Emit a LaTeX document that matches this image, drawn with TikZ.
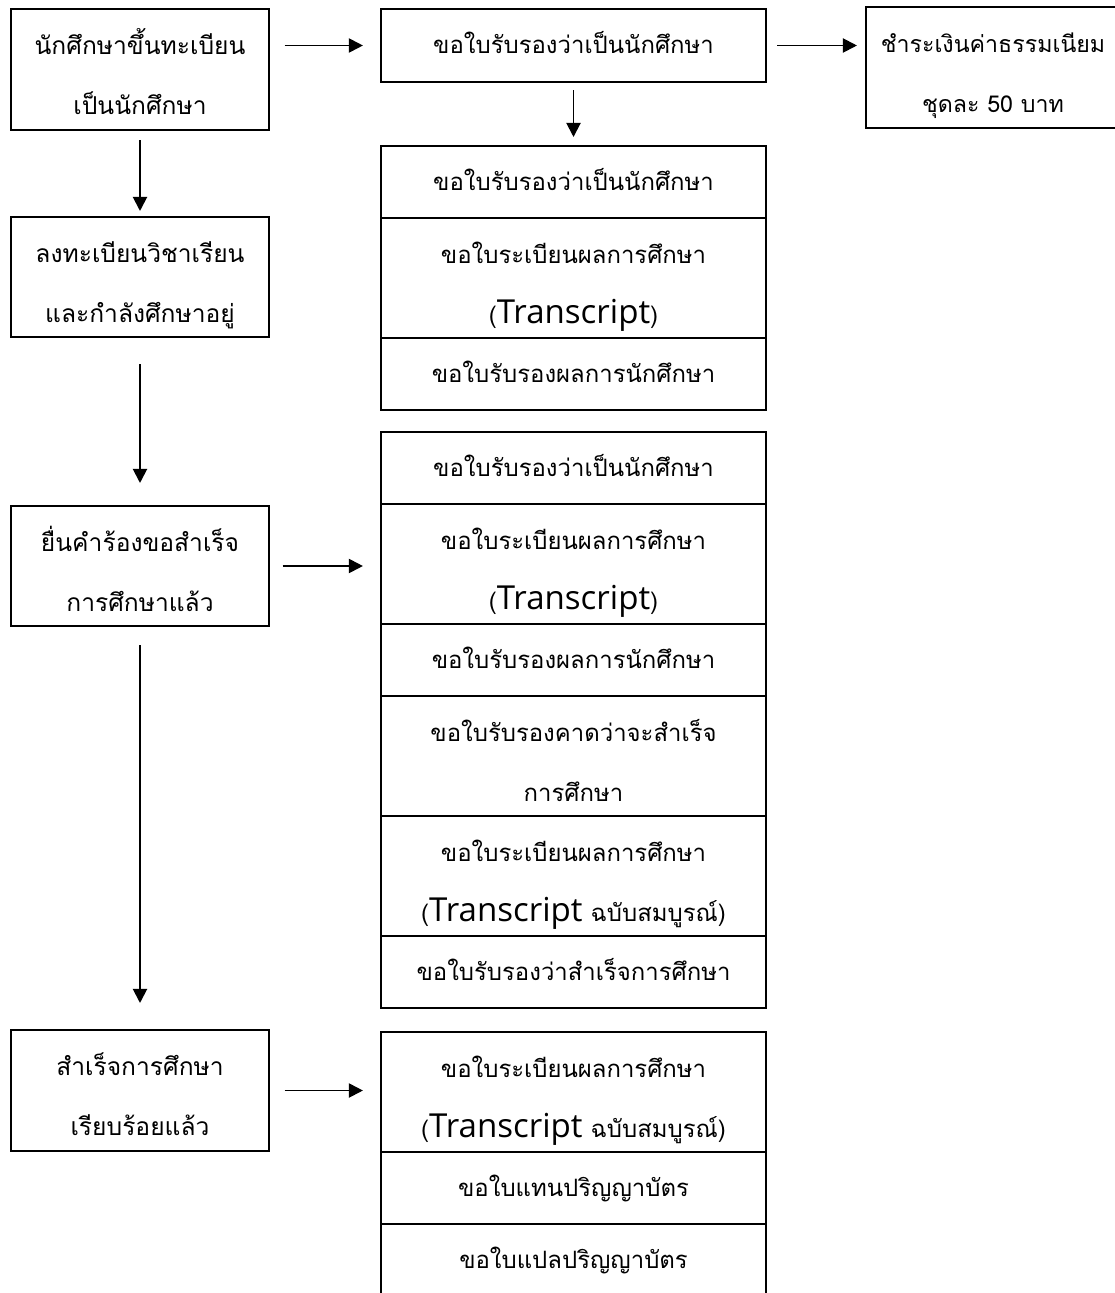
\documentclass[tikz,border=0pt]{standalone}
\usepackage{fontspec}
\setmainfont[Script=Thai]{Loma}
\newfontfamily\latfont{Open Sans}
\usetikzlibrary{arrows.meta, positioning}

\newcommand{\trn}{{\latfont\fontsize{23.5}{42}\selectfont Transcript}}
% lines of fixed height, so that every box sets its text alike
\newcommand{\one}[1]{\rule[-4pt]{0pt}{19.5pt}\smash{#1}}
\newcommand{\two}[2]{\rule[-4pt]{0pt}{29.5pt}\smash{#1}\\\one{#2}}

\begin{document}
\begin{tikzpicture}[
  x=0.025cm, y=-0.025cm,
  stage/.style={draw, line width=1.4pt, outer sep=0pt, inner sep=0pt, minimum width=6.425cm, minimum height=3cm, align=center, font=\fontsize{17.5}{42.7}\selectfont},
  cell/.style={draw, line width=1.4pt, outer sep=0pt, inner sep=0pt, minimum width=9.625cm, minimum height=#1, align=center, font=\fontsize{17}{42.7}\selectfont},
  arr/.style={-{Triangle[length=10pt, width=10pt]}, line width=1.4pt}
]
\useasboundingbox (0,0) rectangle (1115,1293);

% left column
\node[stage, minimum height=3.025cm] (regist) at (140,69.5) {\two{นักศึกษาขึ้นทะเบียน}{เป็นนักศึกษา}};
\node[stage] (enroll) at (140,277) {\two{ลงทะเบียนวิชาเรียน}{และกำลังศึกษาอยู่}};
\node[stage] (request) at (140,566) {\two{ยื่นคำร้องขอสำเร็จ}{การศึกษาแล้ว}};
\node[stage, minimum height=3.025cm] (grad) at (140,1090.5) {\two{สำเร็จการศึกษา}{เรียบร้อยแล้ว}};

% top row
\node[cell=1.825cm] (ask) at (573.5,45.5) {\one{ขอใบรับรองว่าเป็นนักศึกษา}};
\node[stage, minimum width=6.35cm, minimum height=3.025cm, font=\fontsize{16.5}{42.7}\selectfont] (fee) at (993,67.5) {\two{ชำระเงินค่าธรรมเนียม}{ชุดละ 50 บาท}};

% documents while studying
\node[cell=1.8cm, anchor=north] (s1a) at (573.5,146) {\one{ขอใบรับรองว่าเป็นนักศึกษา}};
\node[cell=3cm, below=0pt of s1a] (s1b) {\two{ขอใบระเบียนผลการศึกษา}{(\trn)}};
\node[cell=1.8cm, below=0pt of s1b] (s1c) {\one{ขอใบรับรองผลการนักศึกษา}};

% documents after request
\node[cell=1.8cm, anchor=north] (s2a) at (573.5,432) {\one{ขอใบรับรองว่าเป็นนักศึกษา}};
\node[cell=3cm, below=0pt of s2a] (s2b) {\two{ขอใบระเบียนผลการศึกษา}{(\trn)}};
\node[cell=1.8cm, below=0pt of s2b] (s2c) {\one{ขอใบรับรองผลการนักศึกษา}};
\node[cell=3cm, below=0pt of s2c] (s2d) {\two{ขอใบรับรองคาดว่าจะสำเร็จ}{การศึกษา}};
\node[cell=3cm, below=0pt of s2d] (s2e) {\two{ขอใบระเบียนผลการศึกษา}{(\trn{} ฉบับสมบูรณ์)}};
\node[cell=1.8cm, below=0pt of s2e] (s2f) {\one{ขอใบรับรองว่าสำเร็จการศึกษา}};

% documents after graduation
\node[cell=3cm, anchor=north] (s3a) at (573.5,1032) {\two{ขอใบระเบียนผลการศึกษา}{(\trn{} ฉบับสมบูรณ์)}};
\node[cell=1.8cm, below=0pt of s3a] (s3b) {\one{ขอใบแทนปริญญาบัตร}};
\node[cell=1.8cm, below=0pt of s3b] (s3c) {\one{ขอใบแปลปริญญาบัตร}};

% arrows
\draw[arr, shorten <=0.4cm, shorten >=0.45cm] (regist.east |- ask.west) -- (ask.west);
\draw[arr, shorten <=0.275cm, shorten >=0.225cm] (ask.east) -- (ask.east -| fee.west);
\draw[arr, shorten <=0.2cm, shorten >=0.225cm] (ask) -- (s1a);
\draw[arr, shorten <=0.25cm, shorten >=0.15cm] (regist) -- (enroll);
\draw[arr, shorten <=0.675cm, shorten >=0.575cm] (enroll) -- (request);
\draw[arr, shorten <=0.475cm, shorten >=0.675cm] (request) -- (grad);
\draw[arr, shorten <=0.35cm, shorten >=0.45cm] (request.east) -- (request.east -| s2b.west);
\draw[arr, shorten <=0.4cm, shorten >=0.45cm] (grad.east) -- (grad.east -| s3a.west);
\end{tikzpicture}
\end{document}
